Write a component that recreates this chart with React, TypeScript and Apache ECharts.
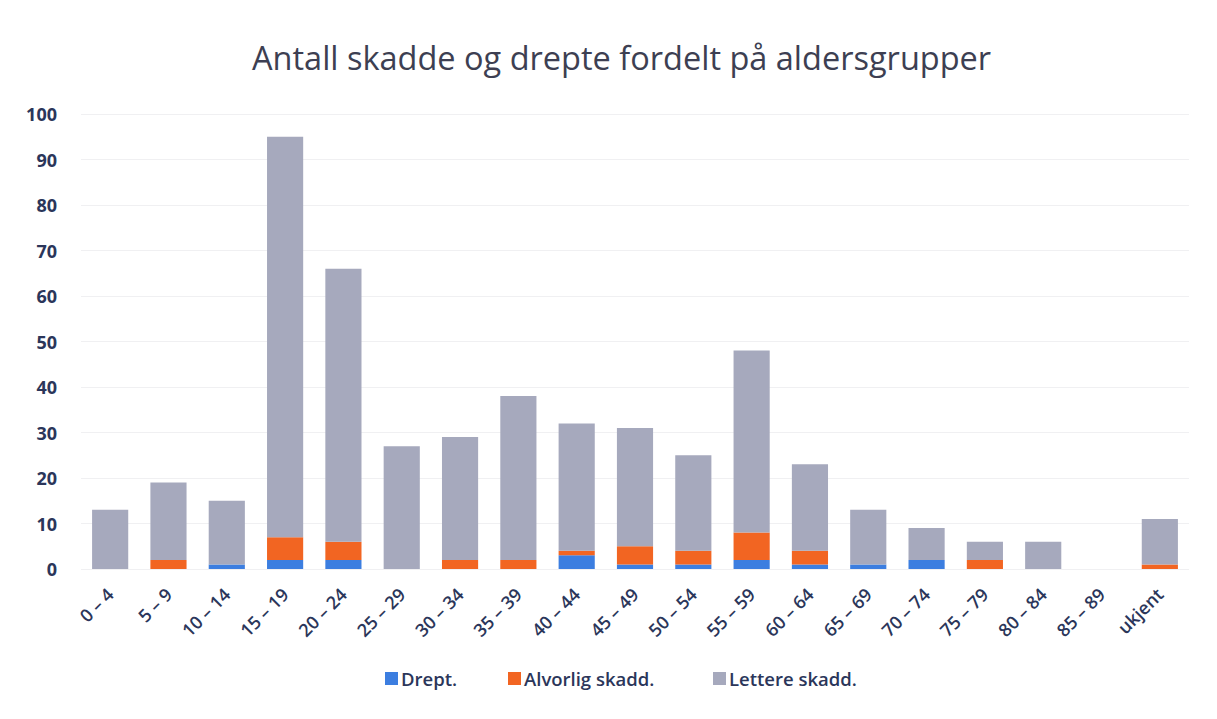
import React, { useEffect, useRef } from "react";
import * as echarts from "echarts";

const categories = ["0 – 4", "5 – 9", "10 – 14", "15 – 19", "20 – 24", "25 – 29", "30 – 34", "35 – 39", "40 – 44", "45 – 49", "50 – 54", "55 – 59", "60 – 64", "65 – 69", "70 – 74", "75 – 79", "80 – 84", "85 – 89", "ukjent"];
const seriesNames = ["Drept.", "Alvorlig skadd.", "Lettere skadd."];
const drept = [0, 0, 1, 2, 2, 0, 0, 0, 3, 1, 1, 2, 1, 1, 2, 0, 0, 0, 0];
const alvorlig = [0, 2, 0, 5, 4, 0, 2, 2, 1, 4, 3, 6, 3, 0, 0, 2, 0, 0, 1];
const lettere = [13, 17, 14, 88, 60, 27, 27, 36, 28, 26, 21, 40, 19, 12, 7, 4, 6, 0, 10];

const labelColor = "#2b365a";
const legendLefts = [380, 503, 708];

export default function App() {
  const ref = useRef<HTMLDivElement>(null);
  useEffect(() => {
    if (!ref.current) return;
    const chart = echarts.init(ref.current, null, { renderer: "svg" });
    const font = "'Open Sans', 'Noto Sans', sans-serif";
    chart.setOption({
      animation: false,
      backgroundColor: "#ffffff",
      title: {
        text: "Antall skadde og drepte fordelt på aldersgrupper",
        left: 247,
        top: 36,
        textStyle: { fontFamily: font, fontSize: 32.5, fontWeight: "normal", color: "#3d3f52" },
      },
      legend: seriesNames.map((n, i) => ({
        top: 664,
        left: legendLefts[i],
        itemWidth: 13,
        itemHeight: 13,
        itemGap: 6,
        icon: "rect",
        textStyle: { fontFamily: font, fontSize: 18.5, fontWeight: 600, color: labelColor, padding: [0, 0, 0, -2] },
        data: [n],
      })),
      grid: { left: 81, right: 28, top: 114, bottom: 150 },
      xAxis: {
        type: "category",
        data: categories,
        axisLine: { show: false },
        axisTick: { show: false },
        axisLabel: {
          rotate: 45,
          interval: 0,
          margin: 22,
          fontFamily: font,
          fontSize: 18,
          fontWeight: 600,
          color: labelColor,
        },
      },
      yAxis: {
        type: "value",
        min: 0,
        max: 100,
        interval: 10,
        axisLine: { show: false },
        axisTick: { show: false },
        splitLine: { lineStyle: { color: "#f0f0f2", width: 1 } },
        axisLabel: {
          margin: 24,
          fontFamily: font,
          fontSize: 18,
          fontWeight: "bold",
          color: labelColor,
        },
      },
      series: [
        { name: seriesNames[0], type: "bar", stack: "a", data: drept, barWidth: "62%", itemStyle: { color: "#3c7ee0" } },
        { name: seriesNames[1], type: "bar", stack: "a", data: alvorlig, itemStyle: { color: "#f26522" } },
        { name: seriesNames[2], type: "bar", stack: "a", data: lettere, itemStyle: { color: "#a6a9bd" } },
      ],
    });
    return () => chart.dispose();
  }, []);
  return <div ref={ref} style={{ position: "fixed", left: 0, top: 0, width: 1217, height: 719 }} />;
}
